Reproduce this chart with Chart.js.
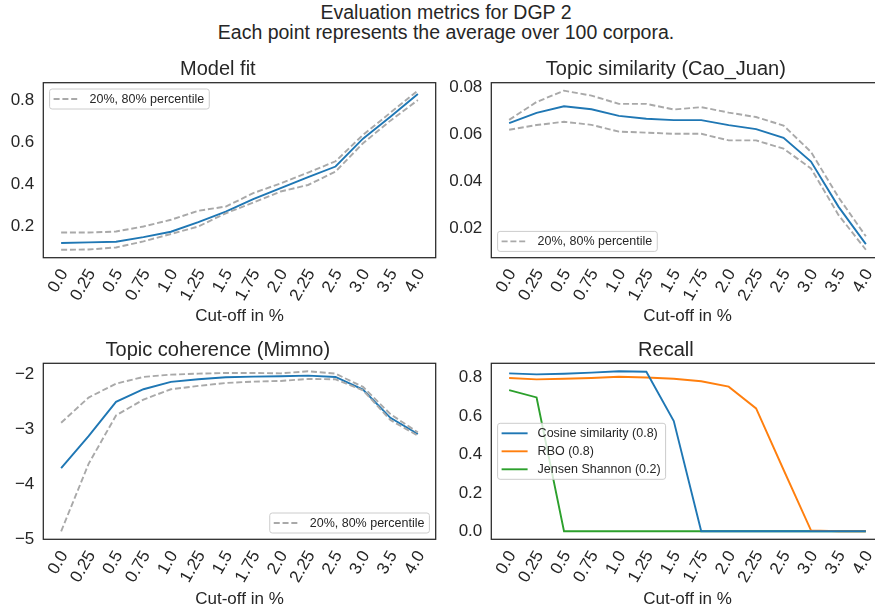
<!DOCTYPE html>
<html>
<head>
<meta charset="utf-8">
<script src="https://cdn.jsdelivr.net/npm/chart.js@4"></script>
<style>
  html, body { margin: 0; padding: 0; background: #fff; }
  body { width: 875px; height: 612px; position: relative; overflow: hidden; font-family: 'Liberation Sans', Arial, sans-serif; }
  .sup { position: absolute; left: 0; width: 892px; top: 2px; text-align: center; font-size: 19.5px; line-height: 20.3px; color: #262626; }
  canvas { position: absolute; }
</style>
</head>
<body>
<div class="sup">Evaluation metrics for DGP 2<br>Each point represents the average over 100 corpora.</div>
<canvas id="fitChart" width="445" height="296" style="left:0px;top:44px"></canvas>
<canvas id="simChart" width="445" height="296" style="left:448px;top:44px"></canvas>
<canvas id="cohChart" width="445" height="287" style="left:0px;top:325px"></canvas>
<canvas id="recallChart" width="445" height="287" style="left:448px;top:325px"></canvas>
<script>
// x categories (cut-off in %)
const cutoffs = ['0.0', '0.25', '0.5', '0.75', '1.0', '1.25', '1.5', '1.75', '2.0', '2.25', '2.5', '3.0', '3.5', '4.0'];

// Model fit
const fitMean = [0.121, 0.124, 0.127, 0.149, 0.175, 0.221, 0.271, 0.330, 0.383, 0.435, 0.486, 0.619, 0.724, 0.832];
const fitP80  = [0.171, 0.171, 0.176, 0.200, 0.232, 0.275, 0.295, 0.359, 0.406, 0.457, 0.511, 0.637, 0.743, 0.848];
const fitP20  = [0.089, 0.090, 0.100, 0.129, 0.164, 0.200, 0.263, 0.314, 0.367, 0.398, 0.462, 0.597, 0.705, 0.803];
const fitTicks = [0.2, 0.4, 0.6, 0.8];

// Topic similarity (Cao_Juan)
const simMean = [0.0648, 0.0692, 0.0720, 0.0707, 0.0679, 0.0667, 0.0661, 0.0661, 0.0640, 0.0623, 0.0586, 0.0485, 0.0294, 0.0135];
const simP80  = [0.0662, 0.0738, 0.0786, 0.0765, 0.0730, 0.0730, 0.0706, 0.0716, 0.0693, 0.0674, 0.0638, 0.0526, 0.0334, 0.0168];
const simP20  = [0.0620, 0.0640, 0.0654, 0.0641, 0.0612, 0.0608, 0.0603, 0.0603, 0.0575, 0.0575, 0.0540, 0.0456, 0.0259, 0.0111];
const simTicks = [0.02, 0.04, 0.06, 0.08];

// Topic coherence (Mimno)
const cohMean = [-3.709, -3.121, -2.497, -2.267, -2.133, -2.085, -2.048, -2.036, -2.030, -2.018, -2.042, -2.273, -2.788, -3.085];
const cohP80  = [-2.879, -2.418, -2.164, -2.042, -2.000, -1.982, -1.970, -1.970, -1.976, -1.939, -1.982, -2.224, -2.721, -3.055];
const cohP20  = [-4.861, -3.630, -2.745, -2.455, -2.267, -2.206, -2.152, -2.127, -2.115, -2.079, -2.085, -2.285, -2.830, -3.115];
const cohTicks = [-5, -4, -3, -2];

// Recall
const recallCos = [0.821, 0.816, 0.819, 0.825, 0.832, 0.830, 0.573, 0, 0, 0, 0, 0, 0, 0];
const recallRbo = [0.797, 0.790, 0.793, 0.797, 0.804, 0.800, 0.793, 0.780, 0.752, 0.639, 0.320, 0.005, 0, 0];
const recallJs  = [0.734, 0.696, 0, 0, 0, 0, 0, 0, 0, 0, 0, 0, 0, 0];
const recallTicks = [0, 0.2, 0.4, 0.6, 0.8];

const FONT = "'Liberation Sans', Arial, sans-serif";
const INK = '#262626';
const GREY = '#a9a9a9';
Chart.defaults.font.family = FONT;
Chart.defaults.color = INK;

const pts = arr => arr.map((v, i) => ({ x: i, y: v }));
const solid = (label, data, color) => ({ label, legendText: label, data: pts(data), borderColor: color, borderWidth: 1.9, pointRadius: 0, tension: 0, fill: false });
const dashed = (data, legendText) => ({ label: legendText || '', legendText, data: pts(data), borderColor: GREY, borderWidth: 1.9, borderDash: [6, 2.8], pointRadius: 0, tension: 0, fill: false });

// axes frame, like matplotlib spines
const frame = {
  id: 'frame',
  afterDatasetsDraw(chart) {
    const a = chart.chartArea, ctx = chart.ctx;
    ctx.save();
    ctx.strokeStyle = INK;
    ctx.lineWidth = 1.25;
    ctx.strokeRect(a.left, a.top, a.right - a.left, a.bottom - a.top);
    ctx.restore();
  }
};

// legend box inside the axes
const boxLegend = {
  id: 'boxLegend',
  afterDatasetsDraw(chart, args, opts) {
    const items = chart.data.datasets.filter(d => d.legendText);
    if (!items.length) return;
    const ctx = chart.ctx, a = chart.chartArea;
    const pad = 4, handle = 26, gap = 10, rowH = 12, spacing = 6, m = 6.3;
    ctx.save();
    ctx.font = '12.5px ' + FONT;
    const textW = Math.max(...items.map(d => ctx.measureText(d.legendText).width));
    const w = pad + handle + gap + textW + pad + 1;
    const h = 2 * pad + items.length * rowH + (items.length - 1) * spacing;
    const loc = opts.loc;
    const x = loc.includes('left') ? a.left + m : a.right - m - w;
    const y = loc.startsWith('upper') ? a.top + m : loc.startsWith('lower') ? a.bottom - m - h : (a.top + a.bottom - h) / 2;
    ctx.beginPath();
    ctx.roundRect(x, y, w, h, 2.5);
    ctx.fillStyle = 'rgba(255,255,255,0.8)';
    ctx.fill();
    ctx.strokeStyle = '#cccccc';
    ctx.lineWidth = 1;
    ctx.stroke();
    items.forEach((d, i) => {
      const cy = y + pad + rowH / 2 + i * (rowH + spacing);
      ctx.beginPath();
      ctx.setLineDash(d.borderDash || []);
      ctx.strokeStyle = d.borderColor;
      ctx.lineWidth = d.borderWidth;
      ctx.moveTo(x + pad, cy);
      ctx.lineTo(x + pad + handle, cy);
      ctx.stroke();
      ctx.setLineDash([]);
      ctx.fillStyle = INK;
      ctx.textBaseline = 'middle';
      ctx.fillText(d.legendText, x + pad + handle + gap, cy + 0.5);
    });
    ctx.restore();
  }
};

function yRange(series) {
  const all = series.flat();
  const lo = Math.min(...all), hi = Math.max(...all);
  const m = (hi - lo) * 0.05;
  return [lo - m, hi + m];
}

function makePanel(id, title, datasets, series, yTicks, fmt, loc, lay) {
  const [ymin, ymax] = yRange(series);
  new Chart(document.getElementById(id).getContext('2d'), {
    type: 'line',
    data: { datasets },
    options: {
      responsive: false,
      animation: false,
      devicePixelRatio: 1,
      layout: { padding: { left: 0, right: 9.3, top: 0, bottom: 0 } },
      plugins: {
        legend: { display: false },
        tooltip: { enabled: false },
        title: { display: true, text: title, color: INK, font: { size: 20, weight: 'normal' }, padding: { top: lay.titleTop, bottom: lay.titleBottom } },
        boxLegend: { loc }
      },
      scales: {
        x: {
          type: 'linear',
          min: -0.65,
          max: cutoffs.length - 1 + 0.65,
          afterBuildTicks: s => { s.ticks = cutoffs.map((c, i) => ({ value: i })); },
          afterFit: s => { s.height = lay.xHeight; },
          grid: { display: false, drawTicks: false },
          border: { display: false },
          ticks: { autoSkip: false, minRotation: 60, maxRotation: 60, padding: 8, labelOffset: 3, color: INK, font: { size: 17 }, callback: v => cutoffs[v] },
          title: { display: true, text: 'Cut-off in %', color: INK, font: { size: 17 }, padding: { top: 0, bottom: lay.xTitleBottom } }
        },
        y: {
          min: ymin,
          max: ymax,
          afterBuildTicks: s => { s.ticks = yTicks.map(v => ({ value: v })); },
          afterFit: s => { s.width = 43.3; },
          grid: { display: false, drawTicks: false },
          border: { display: false },
          ticks: { padding: 9, color: INK, font: { size: 17 }, callback: fmt }
        }
      }
    },
    plugins: [frame, boxLegend]
  });
}

const topLay = { titleTop: 13, titleBottom: 1.7, xHeight: 82.3, xTitleBottom: 13.5 };
const botLay = { titleTop: 13, titleBottom: 1.3, xHeight: 72.7, xTitleBottom: 2.5 };
const dec = n => v => v.toFixed(n);
const minusFmt = v => String(v).replace('-', '\u2212');

makePanel('fitChart', 'Model fit',
  [dashed(fitP20, '20%, 80% percentile'), dashed(fitP80), solid('', fitMean, '#1f77b4')],
  [fitMean, fitP80, fitP20], fitTicks, dec(1), 'upper left', topLay);

makePanel('simChart', 'Topic similarity (Cao_Juan)',
  [dashed(simP20, '20%, 80% percentile'), dashed(simP80), solid('', simMean, '#1f77b4')],
  [simMean, simP80, simP20], simTicks, dec(2), 'lower left', topLay);

makePanel('cohChart', 'Topic coherence (Mimno)',
  [dashed(cohP20, '20%, 80% percentile'), dashed(cohP80), solid('', cohMean, '#1f77b4')],
  [cohMean, cohP80, cohP20], cohTicks, minusFmt, 'lower right', botLay);

makePanel('recallChart', 'Recall',
  [solid('Cosine similarity (0.8)', recallCos, '#1f77b4'), solid('RBO (0.8)', recallRbo, '#ff7f0e'), solid('Jensen Shannon (0.2)', recallJs, '#2ca02c')],
  [recallCos, recallRbo, recallJs], recallTicks, dec(1), 'center left', botLay);
</script>
</body>
</html>
